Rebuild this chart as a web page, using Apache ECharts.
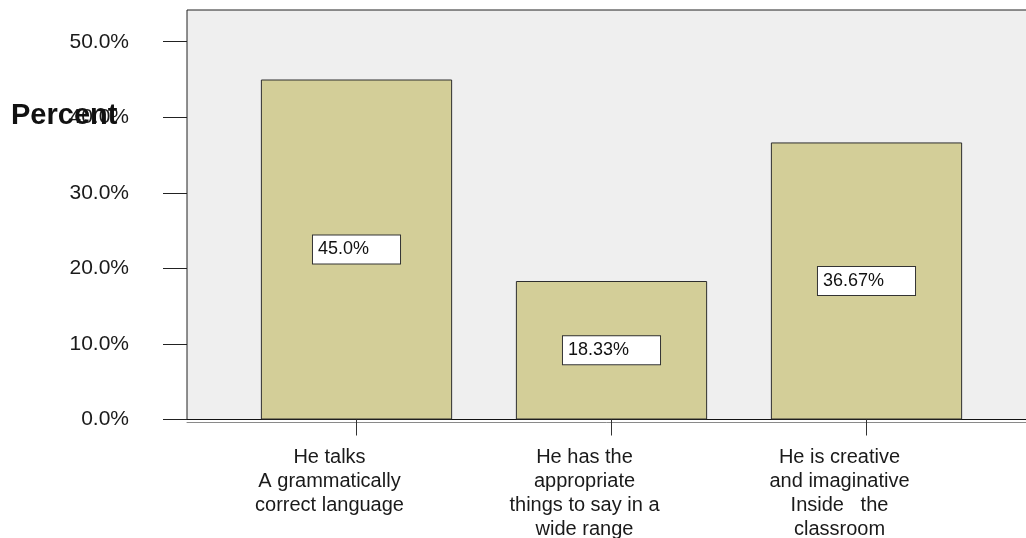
<!DOCTYPE html>
<html>
<head>
<meta charset="utf-8">
<script src="https://cdn.jsdelivr.net/npm/echarts@6/dist/echarts.min.js"></script>
<style>
  html, body { margin: 0; padding: 0; background: #ffffff; }
  #chart { width: 1026px; height: 538px; }
</style>
</head>
<body>
<div id="chart"></div>
<script>
// Response categories (line breaks as printed under each bar)
const categories = [
  'He talks\nA grammatically\ncorrect language',
  'He has the\nappropriate\nthings to say in a\nwide range',
  'He is creative\nand imaginative\nInside   the\nclassroom'
];
// Share of respondents per category, in percent
const percents = [45.0, 18.33, 36.67];
// Value axis settings and labelled ticks
const yMax = 54.2;
const yTicks = [0, 10, 20, 30, 40, 50];

const FONT = '"Liberation Sans", Arial, Helvetica, sans-serif';

function pctLabel(v) {
  const oneDecimal = Math.abs(v * 10 - Math.round(v * 10)) < 1e-9;
  return (oneDecimal ? v.toFixed(1) : v.toFixed(2)) + '%';
}

const chart = echarts.init(document.getElementById('chart'), null, { renderer: 'canvas' });

chart.setOption({
  animation: false,
  backgroundColor: '#ffffff',
  title: {
    text: 'Percent',
    left: 11,
    top: 101,
    padding: 0,
    textStyle: { fontFamily: FONT, fontSize: 29, fontWeight: 'bold', color: '#111' }
  },
  grid: [
    // plot frame with the grey panel
    {
      left: 187, top: 10, width: 900, bottom: 118.5,
      outerBoundsMode: 'none', containLabel: false,
      show: true, backgroundColor: '#efefef', borderColor: '#222', borderWidth: 1
    },
    // bars
    {
      left: 229, top: 10, right: 32, bottom: 118.5,
      outerBoundsMode: 'none', containLabel: false
    }
  ],
  xAxis: [
    {
      gridIndex: 0, type: 'value', min: 0, max: 1,
      axisLine: { show: true, lineStyle: { color: '#111', width: 1 } },
      axisTick: { show: false }, axisLabel: { show: false }, splitLine: { show: false }
    },
    {
      gridIndex: 0, type: 'value', min: 0, max: 1, position: 'bottom', offset: 3,
      axisLine: { show: true, lineStyle: { color: '#8a8a8a', width: 1 } },
      axisTick: { show: false }, axisLabel: { show: false }, splitLine: { show: false }
    },
    {
      gridIndex: 1, type: 'category', data: categories,
      axisLine: { show: false },
      axisTick: { show: true, alignWithLabel: true, length: 16, lineStyle: { color: '#333' } },
      axisLabel: {
        interval: 0, margin: 26, fontFamily: FONT, fontSize: 20, lineHeight: 24,
        color: '#1a1a1a', align: 'center', padding: [0, 54, 0, 0]
      }
    }
  ],
  yAxis: [
    { gridIndex: 0, type: 'value', min: 0, max: yMax, show: false },
    {
      gridIndex: 1, type: 'value', min: 0, max: yMax, interval: 10, offset: 42,
      axisLine: { show: false },
      axisTick: { show: true, length: 24, customValues: yTicks, lineStyle: { color: '#222' } },
      splitLine: { show: false },
      axisLabel: {
        margin: 58, fontFamily: FONT, fontSize: 21, color: '#1a1a1a',
        customValues: yTicks,
        formatter: v => v.toFixed(1) + '%'
      }
    }
  ],
  series: [
    {
      type: 'bar',
      xAxisIndex: 2, yAxisIndex: 1,
      data: percents,
      barWidth: '75%',
      itemStyle: { color: '#d3ce98', borderColor: '#2e2e2e', borderWidth: 1 },
      label: {
        show: true, position: 'inside',
        formatter: p => pctLabel(p.value),
        fontFamily: FONT, fontSize: 18, lineHeight: 18, color: '#111',
        backgroundColor: '#ffffff', borderColor: '#333', borderWidth: 1,
        padding: [5, 31, 5, 5]
      }
    }
  ]
});
</script>
</body>
</html>
